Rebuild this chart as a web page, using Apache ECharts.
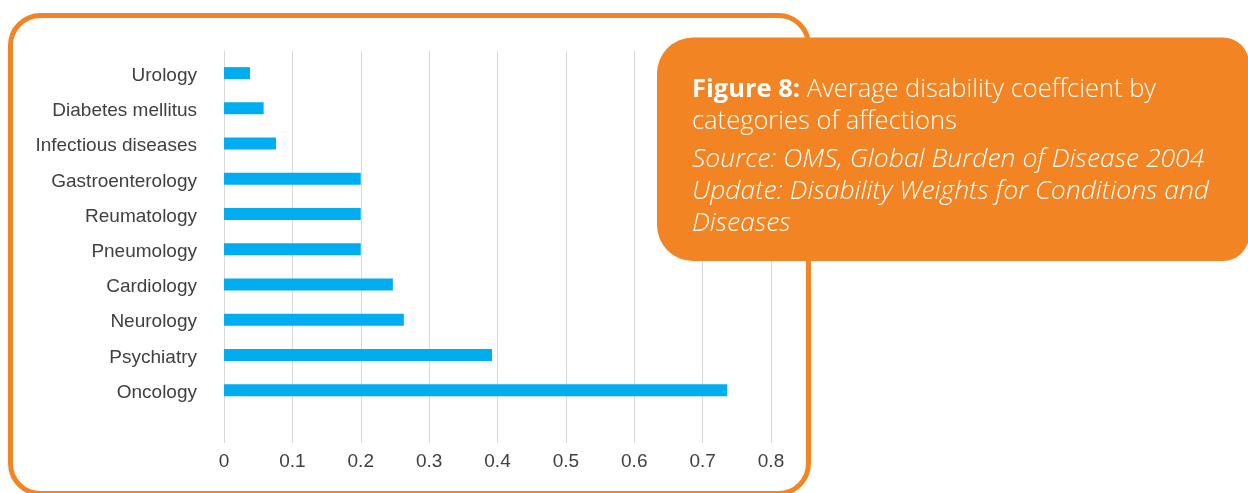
<!DOCTYPE html>
<html>
<head>
<meta charset="utf-8">
<script src="https://cdn.jsdelivr.net/npm/echarts@6/dist/echarts.min.js"></script>
<style>
  html, body { margin: 0; padding: 0; background: #ffffff; }
  #chart { width: 1248px; height: 493px; }
</style>
</head>
<body>
<div id="chart"></div>
<script>
// Categories listed top to bottom; the trailing blank row leaves space above the axis.
const categories = [
  'Urology', 'Diabetes mellitus', 'Infectious diseases', 'Gastroenterology',
  'Reumatology', 'Pneumology', 'Cardiology', 'Neurology', 'Psychiatry', 'Oncology', ''
];
const coefficients = [0.038, 0.058, 0.076, 0.2, 0.2, 0.2, 0.247, 0.263, 0.392, 0.736, null];
const xTicks = [0, 0.1, 0.2, 0.3, 0.4, 0.5, 0.6, 0.7, 0.8];

const titleBold = 'Figure 8:';
const titleRest = ' Average disability coeffcient by';
const titleLine2 = 'categories of affections';
const sourceLines = [
  'Source: OMS, Global Burden of Disease 2004',
  'Update: Disability Weights for Conditions and',
  'Diseases'
];

const ORANGE = '#F28423';
const BLUE = '#00AEEF';
const TEXT = '#404040';
const FONT = '"Liberation Sans", Arial, sans-serif';
const CALLOUT_FONT = '"Open Sans", "Liberation Sans", sans-serif';
const CALLOUT_SIZE = 25.5;
const CALLOUT_ITALIC_SIZE = 26.5;

const chart = echarts.init(document.getElementById('chart'), null, { renderer: 'canvas' });

const xMin = xTicks[0];
const xMax = xTicks[xTicks.length - 1];
const xStep = xTicks[1] - xTicks[0];

function calloutLine(text, y, italic) {
  return {
    type: 'text', z: 21, silent: true, x: 692, y: y,
    style: {
      text: text, fill: '#ffffff',
      fontSize: italic ? CALLOUT_ITALIC_SIZE : CALLOUT_SIZE, fontWeight: 300,
      fontStyle: italic ? 'italic' : 'normal', fontFamily: CALLOUT_FONT,
      verticalAlign: 'middle'
    }
  };
}

chart.setOption({
  animation: false,
  grid: [
    // bars
    { left: 224, right: 1248 - 771, top: 55.5, bottom: 493 - 443, containLabel: false },
    // gridlines and value labels
    { left: 224, right: 1248 - 771, top: 50.5, bottom: 493 - 443, containLabel: false }
  ],
  xAxis: [
    {
      gridIndex: 0, type: 'value', min: xMin, max: xMax, interval: xStep,
      axisLine: { show: false }, axisTick: { show: false },
      axisLabel: { show: false }, splitLine: { show: false }
    },
    {
      gridIndex: 1, type: 'value', min: xMin, max: xMax, interval: xStep,
      axisLine: { show: false }, axisTick: { show: false },
      axisLabel: {
        show: true, margin: 9, color: TEXT, fontSize: 19, fontFamily: FONT,
        formatter: v => String(Math.round(v * 10) / 10)
      },
      splitLine: { show: true, lineStyle: { color: '#d9d9d9', width: 1 } }
    }
  ],
  yAxis: [
    {
      gridIndex: 0, type: 'category', data: categories, inverse: true,
      axisLine: { show: false }, axisTick: { show: false },
      axisLabel: {
        margin: 27,
        formatter: name => '{c|' + name + '}',
        rich: {
          c: { color: TEXT, fontSize: 19, fontFamily: FONT, padding: [5, 0, 0, 0] }
        }
      }
    },
    {
      gridIndex: 1, type: 'category', data: categories, show: false
    }
  ],
  series: [
    {
      type: 'bar', xAxisIndex: 0, yAxisIndex: 0,
      data: coefficients, barWidth: 12,
      itemStyle: { color: BLUE }, z: 3
    }
  ],
  graphic: [
    {
      type: 'rect', z: 10, silent: true,
      shape: { x: 10.5, y: 15.5, width: 798, height: 478, r: 30 },
      style: { fill: 'none', stroke: ORANGE, lineWidth: 5 }
    },
    {
      type: 'rect', z: 20, silent: true,
      shape: { x: 657, y: 37.5, width: 592, height: 223.5, r: [36, 26, 26, 36] },
      style: { fill: ORANGE }
    },
    {
      type: 'text', z: 21, silent: true, x: 692, y: 90,
      style: {
        text: '{b|' + titleBold + '}{n|' + titleRest + '}',
        verticalAlign: 'middle',
        rich: {
          b: { fill: '#ffffff', fontSize: CALLOUT_SIZE, fontWeight: 'bold', fontFamily: CALLOUT_FONT },
          n: { fill: '#ffffff', fontSize: CALLOUT_SIZE, fontWeight: 300, fontFamily: CALLOUT_FONT }
        }
      }
    },
    calloutLine(titleLine2, 122, false),
    calloutLine(sourceLines[0], 159, true),
    calloutLine(sourceLines[1], 191, true),
    calloutLine(sourceLines[2], 223, true)
  ]
});
</script>
</body>
</html>
